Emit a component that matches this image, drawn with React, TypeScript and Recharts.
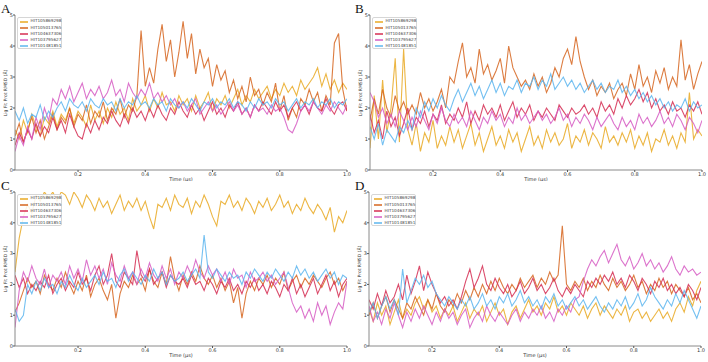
import React from 'react';
import { LineChart, Line, XAxis, YAxis } from 'recharts';

const NAMES = ['HIT105869298', 'HIT105013765', 'HIT104637306', 'HIT103795627', 'HIT101481851'];
const COLORS = ['#E9A923', '#D6651F', '#D52D52', '#D65CC3', '#5CB5EE'];
const X_TICKS = [0.2, 0.4, 0.6, 0.8, 1.0];
const Y_TICKS = [0, 1, 2, 3, 4, 5];
// sampling grid, 80 frames over 1 µs
const TIME = Array.from({ length: 80 }, (_, i) => (i + 1) * 0.0125);

// panel A
const A_Y = [1.3,1.0,1.6,1.2,1.8,1.4,1.1,1.7,1.5,1.9, 1.4,1.8,1.6,2.0,1.5,1.9,1.7,1.4,2.1,1.6, 1.9,1.5,2.0,1.7,2.2,1.8,2.0,1.6,2.3,1.9, 2.1,2.4,1.9,2.3,2.0,2.5,2.1,2.2,1.9,2.4, 2.1,2.3,1.9,2.4,2.0,2.2,2.5,1.9,2.3,2.1, 2.4,2.0,2.3,2.6,2.1,2.4,2.2,2.6,2.3,2.5, 2.7,2.3,2.6,2.4,2.8,2.5,2.7,2.4,2.9,2.6, 2.8,3.0,3.3,2.7,3.1,2.6,2.9,2.5,2.8,2.6];
const A_O = [1.1,1.5,0.9,1.3,1.7,1.2,1.6,1.0,1.4,1.8, 1.3,1.7,1.5,2.0,1.4,1.8,1.6,2.1,1.5,1.9, 1.7,2.2,1.6,2.0,1.8,2.3,1.7,2.1,1.9,2.4, 4.5,2.7,3.3,2.8,3.9,4.7,3.5,4.2,3.0,3.8, 4.8,3.6,4.4,3.1,3.9,3.3,3.6,2.7,3.4,2.9, 3.2,2.5,2.9,2.3,2.7,2.2,3.0,2.4,2.6,2.1, 2.5,2.2,2.8,1.9,2.4,1.6,2.0,1.7,2.3,2.1, 2.6,2.2,2.5,1.9,2.4,2.1,4.1,4.4,2.6,1.9];
const A_R = [0.8,1.2,0.9,1.3,1.0,1.5,1.1,1.4,1.2,1.7, 1.3,1.6,1.2,1.8,1.4,1.1,1.0,1.5,1.2,1.6, 1.3,1.7,1.5,1.9,1.6,1.4,1.8,1.5,2.0,1.7, 1.9,1.6,2.0,1.7,2.1,1.8,1.6,2.0,1.8,2.2, 1.9,1.7,2.1,1.8,2.0,1.6,1.9,2.2,1.8,2.0, 1.7,2.1,1.9,2.2,1.8,2.0,1.7,2.1,1.9,2.2, 2.0,1.8,2.2,1.9,2.1,1.7,2.0,2.2,1.9,2.1, 1.8,2.2,2.0,1.9,2.3,2.0,1.8,2.1,2.2,1.9];
const A_M = [0.6,1.1,0.8,1.4,1.0,1.7,1.3,2.0,1.6,2.3, 2.1,2.6,2.3,2.7,2.2,2.5,2.8,2.3,2.6,2.4, 2.7,2.3,2.5,2.9,2.4,2.6,2.2,2.8,2.5,2.3, 2.6,2.4,2.8,2.3,2.5,2.2,2.4,2.1,2.3,2.0, 2.2,1.9,2.1,2.3,1.8,2.0,2.2,1.9,2.1,1.8, 2.0,2.2,1.9,2.1,1.8,2.0,1.7,2.1,1.9,2.0, 1.8,2.1,1.9,2.0,1.7,1.3,1.2,1.5,1.9,2.1, 1.9,2.2,2.0,1.8,2.1,1.9,2.2,2.0,1.8,2.1];
const A_B = [1.9,1.6,2.0,1.5,1.8,1.7,2.1,1.6,1.9,1.7, 2.0,2.2,1.9,2.3,2.1,2.0,2.2,1.9,2.3,2.1, 2.0,2.3,2.1,2.2,1.9,2.3,2.0,2.2,2.1,2.4, 2.1,2.2,2.0,2.3,2.1,2.2,1.9,2.3,2.1,2.0, 2.2,2.0,2.3,2.1,1.9,2.2,2.1,2.3,2.0,2.2, 2.1,2.3,2.0,2.2,2.1,1.9,2.2,2.0,2.3,2.1, 2.2,2.0,2.3,2.1,2.2,1.9,2.1,2.3,2.0,2.2, 2.1,2.3,2.0,2.2,2.1,2.3,2.0,2.2,2.1,2.3];

// panel B
const B_Y = [0.7,2.4,1.0,2.9,1.2,2.0,3.6,0.9,3.9,1.3, 0.8,1.5,0.6,1.2,0.9,1.6,0.7,1.1,0.8,1.4, 0.9,1.3,0.7,1.1,1.5,0.8,1.2,0.6,1.0,1.4, 0.8,1.1,0.7,1.3,0.9,1.2,0.6,1.0,1.4,0.8, 1.1,0.7,1.3,0.9,1.2,0.8,1.0,1.5,0.7,1.1, 0.9,1.3,0.8,1.2,1.0,0.7,1.4,0.9,1.1,0.8, 1.2,0.9,1.3,0.7,1.1,0.8,1.2,0.6,1.0,0.9, 1.3,0.8,1.1,0.7,1.2,0.9,2.5,1.0,1.3,1.1];
const B_O = [1.6,2.3,1.8,2.6,2.0,1.7,2.4,1.9,2.2,1.8, 2.1,1.8,2.5,2.0,2.3,1.9,2.2,2.6,2.0,3.0, 2.8,3.5,4.1,3.0,3.3,2.8,3.9,3.1,3.4,2.9, 3.2,3.6,2.8,4.0,3.3,3.0,2.7,2.9,2.6,3.1, 2.7,3.0,2.5,2.8,3.3,3.0,3.6,3.9,3.4,4.3, 3.5,3.0,2.6,2.9,2.4,2.7,2.5,2.8,2.3,2.6, 2.8,2.4,3.1,2.6,3.4,2.7,3.0,2.5,3.2,2.8, 3.3,2.6,3.0,2.7,4.2,2.9,3.4,2.6,3.1,3.5];
const B_R = [1.8,1.2,1.6,1.0,1.9,1.4,1.7,1.1,1.5,2.0, 1.3,1.7,1.5,1.9,1.4,1.8,1.6,2.1,1.5,1.8, 1.6,2.0,1.7,2.2,1.5,1.9,1.6,2.1,1.8,2.0, 1.7,2.1,1.6,1.9,2.2,1.7,2.0,1.8,2.1,1.6, 1.9,1.7,2.0,1.8,1.6,2.1,1.9,1.7,2.0,1.8, 1.9,2.1,1.8,2.0,1.7,2.2,1.9,2.1,1.8,2.3, 2.0,2.4,2.1,2.3,2.6,2.2,2.5,2.0,2.3,1.9, 2.1,1.8,2.2,1.9,2.0,1.7,2.1,1.9,2.2,1.8];
const B_M = [2.5,2.2,1.7,2.0,1.5,1.8,1.4,1.9,1.6,1.3, 1.7,1.4,1.9,1.6,1.3,1.8,1.5,2.0,1.6,1.4, 1.8,1.5,1.7,1.4,1.9,1.6,1.3,1.7,1.5,1.9, 1.6,1.8,1.4,1.7,1.5,2.0,1.6,1.8,1.5,1.7, 1.9,1.6,1.8,1.5,1.7,2.0,1.6,1.8,1.4,1.7, 1.5,1.8,1.6,1.3,1.7,1.4,1.6,1.8,1.5,1.3, 1.7,1.4,1.6,1.3,1.8,1.5,1.7,1.4,1.6,1.9, 1.5,1.7,1.4,1.8,1.6,1.3,1.7,1.5,1.2,1.6];
const B_B = [1.4,1.0,1.5,0.8,1.3,1.1,0.9,1.4,1.2,1.6, 1.3,2.0,1.7,2.2,1.9,2.3,2.0,2.4,2.1,1.9, 2.3,2.6,2.2,2.5,2.8,2.4,2.7,2.3,2.6,2.9, 2.5,2.8,2.4,2.7,2.6,2.9,2.5,2.8,2.7,3.0, 2.6,2.9,2.7,3.1,2.6,2.8,3.0,2.7,2.9,2.6, 2.8,2.5,2.7,2.9,2.6,2.8,2.5,2.7,2.6,2.9, 2.5,2.7,2.4,2.6,2.3,2.5,2.2,2.4,2.1,2.3, 2.0,2.2,1.9,2.1,2.0,2.3,1.9,2.2,2.0,2.1];

// panel C
const C_Y = [2.4,3.5,4.2,4.6,4.3,4.9,4.7,5.0,4.8,5.0, 4.7,5.0,4.9,4.6,5.0,4.8,4.5,4.9,4.7,4.4, 4.8,4.5,4.7,4.3,4.6,4.9,4.4,4.7,4.5,4.8, 4.4,4.7,4.2,3.8,4.6,4.5,4.8,4.4,4.9,4.6, 4.5,4.8,4.3,4.7,4.5,4.9,4.6,4.2,3.9,4.7, 4.6,4.9,4.5,4.7,4.4,4.8,4.6,4.3,4.7,4.5, 4.8,4.4,4.6,4.9,4.5,4.7,4.3,4.6,4.4,4.8, 4.5,4.3,4.6,4.4,4.1,4.5,3.7,4.2,4.0,4.4];
const C_O = [1.1,1.4,1.8,2.2,1.9,2.1,1.7,2.3,2.0,1.8, 2.2,1.9,2.4,2.0,1.7,2.1,1.8,2.3,1.6,2.0, 2.2,1.8,1.5,2.0,0.9,1.7,2.1,1.9,2.3,2.0, 2.2,1.8,2.5,2.1,1.9,2.4,2.0,2.9,2.2,1.8, 2.3,2.0,2.4,2.1,2.6,2.2,2.0,2.3,1.9,2.2, 1.8,2.1,1.4,1.9,0.9,1.7,2.1,1.8,2.2,2.0, 2.3,1.9,2.2,2.0,2.4,1.8,2.1,2.3,1.9,2.2, 2.0,2.3,2.1,1.9,2.2,2.4,2.0,2.2,1.8,2.1];
const C_R = [2.3,1.9,2.2,1.7,2.0,1.8,2.1,1.9,2.3,1.7, 2.0,2.2,1.8,2.1,1.9,2.4,2.0,2.2,1.8,2.3, 2.6,2.0,2.3,3.0,2.1,1.9,2.4,2.2,2.0,3.1, 2.3,2.1,2.5,2.0,2.2,2.4,1.9,2.3,2.1,2.0, 2.2,1.9,2.3,2.0,2.1,1.8,2.2,2.0,1.7,2.1, 1.9,2.2,1.8,2.0,1.7,2.1,1.9,2.2,1.8,2.0, 1.7,2.1,1.9,1.6,2.0,1.8,2.2,1.7,2.0,1.6, 1.9,2.2,1.7,2.0,2.3,1.8,2.1,1.6,2.0,2.2];
const C_M = [0.6,1.8,2.4,2.1,2.6,2.2,2.0,2.5,1.9,2.3, 2.1,2.4,2.0,2.6,2.2,2.5,2.1,2.8,2.3,2.6, 2.2,2.5,2.0,2.7,2.3,2.1,2.6,2.2,2.4,2.0, 2.5,2.2,2.7,2.3,2.1,2.6,2.2,2.5,2.0,2.4, 2.2,2.6,2.3,2.8,2.4,2.2,2.6,2.3,2.5,2.1, 2.4,2.0,2.5,2.2,2.3,1.9,2.4,2.1,2.2,2.4, 2.1,2.3,2.0,2.2,2.4,1.9,1.4,1.1,1.3,0.9, 1.2,0.8,1.4,1.0,1.3,0.7,1.1,1.4,1.2,2.1];
const C_B = [1.2,0.8,1.0,2.0,1.7,2.1,1.8,2.2,1.9,2.0, 1.7,2.1,1.9,2.3,2.0,1.8,2.2,1.9,2.1,2.3, 2.0,2.4,2.1,2.2,1.9,2.3,2.5,2.1,2.4,2.2, 2.0,2.3,2.1,2.5,2.2,2.4,2.0,2.3,2.1,2.2, 2.4,2.1,2.3,2.5,2.2,3.6,2.4,2.2,2.5,2.3, 2.1,2.4,2.2,2.3,2.0,2.4,2.2,2.5,2.3,2.1, 2.4,2.2,2.5,2.3,2.1,2.4,2.2,2.6,2.3,2.5, 2.2,2.4,2.1,2.3,2.5,2.2,2.4,2.0,2.3,2.2];

// panel D
const D_Y = [1.2,0.8,1.4,1.0,1.3,0.7,1.1,1.5,0.9,1.2, 1.0,1.4,1.6,1.2,1.5,1.1,1.3,0.9,1.2,1.0, 1.3,0.8,1.1,1.4,0.9,1.2,1.0,1.3,0.8,1.1, 1.4,1.0,1.2,0.7,1.1,1.3,0.9,1.2,1.5,1.1, 1.3,1.0,1.4,1.2,1.6,1.1,1.3,1.0,1.4,1.2, 1.0,1.3,0.9,1.2,1.4,1.0,1.3,1.1,0.9,1.2, 1.0,1.3,0.8,1.1,1.2,0.9,1.1,0.8,1.0,1.2, 0.9,1.1,0.8,1.2,1.4,1.1,1.6,1.3,1.8,2.1];
const D_O = [1.0,1.4,0.9,1.3,1.6,1.1,1.5,1.2,0.9,1.4, 1.2,1.6,1.3,1.0,1.5,1.2,1.7,1.3,1.1,1.5, 1.3,1.7,1.4,1.8,1.5,1.9,1.6,2.0,1.7,2.1, 1.8,2.2,1.9,1.7,2.0,1.8,2.2,1.9,2.1,2.3, 1.9,2.2,2.0,2.4,2.1,2.3,3.9,2.0,1.8,2.1, 1.9,2.2,1.8,2.1,1.9,2.3,2.0,1.8,2.2,1.9, 2.1,1.8,2.0,2.3,1.9,2.1,1.7,2.0,1.8,2.2, 1.9,2.1,1.7,2.0,1.8,1.6,1.9,1.5,1.7,1.4];
const D_R = [1.5,1.2,1.7,1.3,1.8,1.4,1.6,2.0,1.5,2.3, 1.7,2.1,2.6,1.8,2.4,2.0,1.7,1.4,1.6,1.3, 1.5,1.2,1.6,2.1,2.5,1.9,2.2,2.6,2.0,1.8, 2.2,1.9,1.7,2.0,1.6,1.8,2.1,1.7,1.9,2.2, 1.8,2.0,1.7,1.9,2.2,1.8,1.6,1.9,1.7,2.0, 1.8,1.6,2.1,1.9,2.2,2.0,2.3,2.1,2.4,2.0, 2.2,1.9,2.3,2.1,1.8,2.2,2.0,1.7,2.1,1.9, 2.2,1.8,2.0,1.7,1.9,1.6,2.0,1.8,1.5,1.9];
const D_M = [1.3,0.8,1.1,0.7,1.2,0.9,1.4,1.0,0.6,1.1, 0.8,1.2,0.9,1.3,1.0,0.7,1.1,0.8,1.2,0.9, 1.1,0.7,1.0,1.2,0.6,0.9,1.1,0.8,1.3,1.0, 0.8,1.1,0.9,0.7,1.0,1.2,0.8,1.1,0.9,1.2, 1.0,1.3,0.9,1.1,0.8,1.2,1.0,1.3,1.1,1.5, 1.6,2.1,2.5,2.8,2.6,2.9,3.1,2.7,3.0,3.3, 2.8,2.6,2.9,2.5,2.7,3.0,2.6,2.8,2.5,2.7, 2.4,2.6,2.9,2.5,2.3,2.6,2.4,2.5,2.3,2.4];
const D_B = [1.1,1.4,0.9,1.3,1.6,1.2,1.5,1.0,2.5,1.4, 1.8,2.2,2.0,2.3,1.9,2.1,1.7,1.5,1.3,1.6, 1.4,1.2,1.5,1.3,1.6,1.2,1.4,1.7,1.3,1.5, 1.2,1.6,1.4,1.7,1.3,1.5,1.8,1.4,1.6,1.3, 1.5,1.2,1.6,1.4,1.7,1.3,1.5,1.2,1.4,1.6, 1.3,1.5,1.2,1.4,1.6,1.3,1.1,1.4,1.2,1.5, 1.3,1.6,1.2,1.4,1.7,1.3,1.5,1.9,1.6,1.4, 1.2,1.5,1.3,1.7,1.4,1.8,1.5,1.2,0.9,1.3];

const SANS = '"DejaVu Sans", sans-serif';
const AXIS = '#8a8a8a';

type PanelProps = {
  letter: string;
  series: number[][];
  left: number;
  top: number;
  margin: { top: number; right: number; bottom: number; left: number };
  yWidth: number;
};

const Panel = ({ letter, series, left, top, margin, yWidth }: PanelProps) => {
  const data = TIME.map((t, i) => {
    const row: Record<string, number> = { t };
    series.forEach((s, j) => { row['s' + j] = s[i]; });
    return row;
  });
  const plotTop = margin.top;
  const plotBottom = 181 - margin.bottom - 11;
  const plotLeft = yWidth;
  const tickStyle = { fontSize: 5, fill: '#333', fontFamily: SANS };
  return (
    <div style={{ position: 'absolute', left, top, width: 354, height: 181 }}>
      <LineChart width={354} height={181} data={data} margin={margin}>
        <XAxis dataKey="t" type="number" domain={[0.0125, 1]} allowDataOverflow ticks={X_TICKS} interval={0}
          tickFormatter={(v: number) => v.toFixed(1)} height={11} tickSize={2} tickMargin={0}
          tick={tickStyle} stroke={AXIS} tickLine={{ stroke: '#555' }}
          label={{ value: 'Time (μs)', position: 'insideBottom', offset: 0, style: { fontSize: 5, fill: '#333', fontFamily: SANS } }} />
        <XAxis xAxisId="top" orientation="top" dataKey="t" type="number" domain={[0.0125, 1]} height={0}
          tick={false} tickLine={false} stroke={AXIS} />
        <YAxis type="number" domain={[0, 5]} allowDataOverflow ticks={Y_TICKS} interval={0} width={yWidth}
          tickSize={2} tickMargin={0} tick={tickStyle} stroke={AXIS} tickLine={{ stroke: '#555' }} />
        <YAxis yAxisId="right" orientation="right" type="number" domain={[0, 5]} width={0}
          tick={false} tickLine={false} stroke={AXIS} />
        {series.map((_, j) => (
          <Line key={j} dataKey={'s' + j} type="linear" stroke={COLORS[j]} strokeWidth={1.1} strokeOpacity={0.85}
            dot={false} isAnimationActive={false} />
        ))}
      </LineChart>
      <div style={{
        position: 'absolute', left: plotLeft - 9, top: (plotTop + plotBottom) / 2,
        transform: 'translate(-50%, -50%) rotate(-90deg)', whiteSpace: 'nowrap',
        fontSize: 4.5, lineHeight: 1, color: '#333', fontFamily: SANS,
      }}>Lig Fit Prot RMSD (Å)</div>
      <div style={{
        position: 'absolute', left: plotLeft + 2, top: plotTop + 2, width: 45, height: 32,
        border: '0.6px solid #d6d6d6', borderRadius: 2, background: 'rgba(255,255,255,0.85)', boxSizing: 'border-box',
      }}>
        {NAMES.map((n, j) => (
          <div key={n} style={{ position: 'absolute', left: 0, top: 1 + j * 6.2, height: 5, width: 44, display: 'flex', alignItems: 'center' }}>
            <div style={{ marginLeft: 2, width: 8, height: 2, background: COLORS[j], opacity: 0.75 }} />
            <div style={{ marginLeft: 2.5, fontSize: 4.2, lineHeight: 1, color: '#444', fontFamily: SANS }}>{n}</div>
          </div>
        ))}
      </div>
      <div style={{
        position: 'absolute', left: 1, top: plotTop - 13, fontSize: 13, lineHeight: '13px',
        fontFamily: '"Liberation Serif", serif', color: '#111',
      }}>{letter}</div>
    </div>
  );
};

export default function App() {
  return (
    <div style={{ position: 'absolute', left: 0, top: 0, width: 708, height: 362, background: '#fff' }}>
      <Panel letter="A" series={[A_Y, A_O, A_R, A_M, A_B]} left={0} top={0}
        margin={{ top: 15, right: 7, bottom: 0, left: 0 }} yWidth={15} />
      <Panel letter="B" series={[B_Y, B_O, B_R, B_M, B_B]} left={354} top={0}
        margin={{ top: 15, right: 6, bottom: 0, left: 0 }} yWidth={16} />
      <Panel letter="C" series={[C_Y, C_O, C_R, C_M, C_B]} left={0} top={181}
        margin={{ top: 11, right: 7, bottom: 5, left: 0 }} yWidth={15} />
      <Panel letter="D" series={[D_Y, D_O, D_R, D_M, D_B]} left={354} top={181}
        margin={{ top: 11, right: 7, bottom: 5, left: 0 }} yWidth={15} />
    </div>
  );
}
